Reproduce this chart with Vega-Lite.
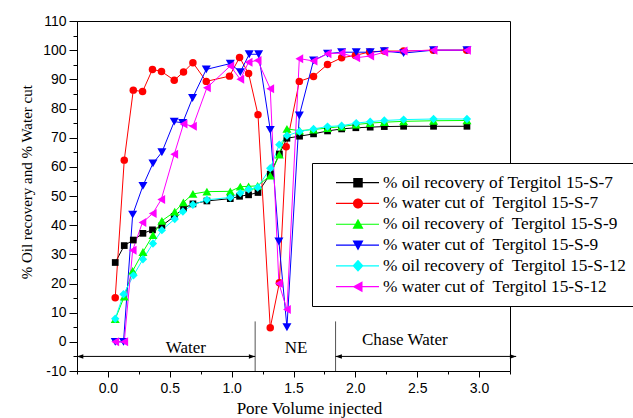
{
  "$schema": "https://vega.github.io/schema/vega-lite/v6.json",
  "width": 433,
  "height": 350,
  "autosize": "none",
  "padding": {"left": 77, "top": 21, "right": 123, "bottom": 47},
  "background": "white",
  "config": {
    "view": {"stroke": "#000", "strokeWidth": 1},
    "axis": {"grid": false, "domainColor": "#000", "tickColor": "#000", "labelColor": "#000", "titleColor": "#000", "domainWidth": 1, "tickWidth": 1}
  },
  "datasets": {
    "curves": [
      {"s": "% oil recovery of Tergitol 15-S-7", "x": 0.059, "y": 27.2},
      {"s": "% oil recovery of Tergitol 15-S-7", "x": 0.132, "y": 33.0},
      {"s": "% oil recovery of Tergitol 15-S-7", "x": 0.205, "y": 34.9},
      {"s": "% oil recovery of Tergitol 15-S-7", "x": 0.283, "y": 37.2},
      {"s": "% oil recovery of Tergitol 15-S-7", "x": 0.36, "y": 38.4},
      {"s": "% oil recovery of Tergitol 15-S-7", "x": 0.436, "y": 39.8},
      {"s": "% oil recovery of Tergitol 15-S-7", "x": 0.536, "y": 43.0},
      {"s": "% oil recovery of Tergitol 15-S-7", "x": 0.611, "y": 45.8},
      {"s": "% oil recovery of Tergitol 15-S-7", "x": 0.687, "y": 47.3},
      {"s": "% oil recovery of Tergitol 15-S-7", "x": 0.8, "y": 48.3},
      {"s": "% oil recovery of Tergitol 15-S-7", "x": 0.989, "y": 49.1},
      {"s": "% oil recovery of Tergitol 15-S-7", "x": 1.064, "y": 49.9},
      {"s": "% oil recovery of Tergitol 15-S-7", "x": 1.137, "y": 50.4},
      {"s": "% oil recovery of Tergitol 15-S-7", "x": 1.213, "y": 51.2},
      {"s": "% oil recovery of Tergitol 15-S-7", "x": 1.312, "y": 57.5},
      {"s": "% oil recovery of Tergitol 15-S-7", "x": 1.386, "y": 64.4},
      {"s": "% oil recovery of Tergitol 15-S-7", "x": 1.447, "y": 69.8},
      {"s": "% oil recovery of Tergitol 15-S-7", "x": 1.549, "y": 70.5},
      {"s": "% oil recovery of Tergitol 15-S-7", "x": 1.662, "y": 71.3},
      {"s": "% oil recovery of Tergitol 15-S-7", "x": 1.775, "y": 72.3},
      {"s": "% oil recovery of Tergitol 15-S-7", "x": 1.889, "y": 73.0},
      {"s": "% oil recovery of Tergitol 15-S-7", "x": 2.004, "y": 73.4},
      {"s": "% oil recovery of Tergitol 15-S-7", "x": 2.12, "y": 73.6},
      {"s": "% oil recovery of Tergitol 15-S-7", "x": 2.234, "y": 73.8},
      {"s": "% oil recovery of Tergitol 15-S-7", "x": 2.39, "y": 73.9},
      {"s": "% oil recovery of Tergitol 15-S-7", "x": 2.632, "y": 73.9},
      {"s": "% oil recovery of Tergitol 15-S-7", "x": 2.902, "y": 73.9},

      {"s": "% water cut of\u00a0 Tergitol 15-S-7", "x": 0.059, "y": 15.1},
      {"s": "% water cut of\u00a0 Tergitol 15-S-7", "x": 0.132, "y": 62.3},
      {"s": "% water cut of\u00a0 Tergitol 15-S-7", "x": 0.205, "y": 86.3},
      {"s": "% water cut of\u00a0 Tergitol 15-S-7", "x": 0.28, "y": 85.8},
      {"s": "% water cut of\u00a0 Tergitol 15-S-7", "x": 0.36, "y": 93.4},
      {"s": "% water cut of\u00a0 Tergitol 15-S-7", "x": 0.433, "y": 92.7},
      {"s": "% water cut of\u00a0 Tergitol 15-S-7", "x": 0.536, "y": 89.7},
      {"s": "% water cut of\u00a0 Tergitol 15-S-7", "x": 0.611, "y": 92.5},
      {"s": "% water cut of\u00a0 Tergitol 15-S-7", "x": 0.687, "y": 95.7},
      {"s": "% water cut of\u00a0 Tergitol 15-S-7", "x": 0.795, "y": 89.3},
      {"s": "% water cut of\u00a0 Tergitol 15-S-7", "x": 0.983, "y": 91.1},
      {"s": "% water cut of\u00a0 Tergitol 15-S-7", "x": 1.064, "y": 97.5},
      {"s": "% water cut of\u00a0 Tergitol 15-S-7", "x": 1.137, "y": 92.0},
      {"s": "% water cut of\u00a0 Tergitol 15-S-7", "x": 1.213, "y": 77.9},
      {"s": "% water cut of\u00a0 Tergitol 15-S-7", "x": 1.312, "y": 4.8},
      {"s": "% water cut of\u00a0 Tergitol 15-S-7", "x": 1.386, "y": 20.3},
      {"s": "% water cut of\u00a0 Tergitol 15-S-7", "x": 1.441, "y": 66.9},
      {"s": "% water cut of\u00a0 Tergitol 15-S-7", "x": 1.547, "y": 89.3},
      {"s": "% water cut of\u00a0 Tergitol 15-S-7", "x": 1.662, "y": 91.0},
      {"s": "% water cut of\u00a0 Tergitol 15-S-7", "x": 1.775, "y": 95.1},
      {"s": "% water cut of\u00a0 Tergitol 15-S-7", "x": 1.889, "y": 97.4},
      {"s": "% water cut of\u00a0 Tergitol 15-S-7", "x": 2.0, "y": 98.2},
      {"s": "% water cut of\u00a0 Tergitol 15-S-7", "x": 2.115, "y": 99.4},
      {"s": "% water cut of\u00a0 Tergitol 15-S-7", "x": 2.234, "y": 99.7},
      {"s": "% water cut of\u00a0 Tergitol 15-S-7", "x": 2.39, "y": 99.7},
      {"s": "% water cut of\u00a0 Tergitol 15-S-7", "x": 2.63, "y": 100},
      {"s": "% water cut of\u00a0 Tergitol 15-S-7", "x": 2.9, "y": 100},

      {"s": "% oil recovery of\u00a0 Tergitol 15-S-9", "x": 0.059, "y": 7.8},
      {"s": "% oil recovery of\u00a0 Tergitol 15-S-9", "x": 0.132, "y": 15.5},
      {"s": "% oil recovery of\u00a0 Tergitol 15-S-9", "x": 0.2, "y": 24.3},
      {"s": "% oil recovery of\u00a0 Tergitol 15-S-9", "x": 0.283, "y": 30.8},
      {"s": "% oil recovery of\u00a0 Tergitol 15-S-9", "x": 0.364, "y": 36.6},
      {"s": "% oil recovery of\u00a0 Tergitol 15-S-9", "x": 0.436, "y": 41.5},
      {"s": "% oil recovery of\u00a0 Tergitol 15-S-9", "x": 0.54, "y": 44.6},
      {"s": "% oil recovery of\u00a0 Tergitol 15-S-9", "x": 0.61, "y": 47.8},
      {"s": "% oil recovery of\u00a0 Tergitol 15-S-9", "x": 0.687, "y": 50.7},
      {"s": "% oil recovery of\u00a0 Tergitol 15-S-9", "x": 0.8, "y": 51.5},
      {"s": "% oil recovery of\u00a0 Tergitol 15-S-9", "x": 0.989, "y": 51.6},
      {"s": "% oil recovery of\u00a0 Tergitol 15-S-9", "x": 1.07, "y": 53.2},
      {"s": "% oil recovery of\u00a0 Tergitol 15-S-9", "x": 1.137, "y": 53.3},
      {"s": "% oil recovery of\u00a0 Tergitol 15-S-9", "x": 1.21, "y": 53.5},
      {"s": "% oil recovery of\u00a0 Tergitol 15-S-9", "x": 1.312, "y": 57.0},
      {"s": "% oil recovery of\u00a0 Tergitol 15-S-9", "x": 1.385, "y": 64.2},
      {"s": "% oil recovery of\u00a0 Tergitol 15-S-9", "x": 1.447, "y": 73.0},
      {"s": "% oil recovery of\u00a0 Tergitol 15-S-9", "x": 1.549, "y": 72.4},
      {"s": "% oil recovery of\u00a0 Tergitol 15-S-9", "x": 1.662, "y": 72.8},
      {"s": "% oil recovery of\u00a0 Tergitol 15-S-9", "x": 1.775, "y": 73.3},
      {"s": "% oil recovery of\u00a0 Tergitol 15-S-9", "x": 1.889, "y": 73.8},
      {"s": "% oil recovery of\u00a0 Tergitol 15-S-9", "x": 2.007, "y": 74.5},
      {"s": "% oil recovery of\u00a0 Tergitol 15-S-9", "x": 2.12, "y": 75.0},
      {"s": "% oil recovery of\u00a0 Tergitol 15-S-9", "x": 2.234, "y": 75.3},
      {"s": "% oil recovery of\u00a0 Tergitol 15-S-9", "x": 2.39, "y": 75.6},
      {"s": "% oil recovery of\u00a0 Tergitol 15-S-9", "x": 2.632, "y": 75.8},
      {"s": "% oil recovery of\u00a0 Tergitol 15-S-9", "x": 2.902, "y": 75.9},

      {"s": "% water cut of\u00a0 Tergitol 15-S-9", "x": 0.059, "y": 0},
      {"s": "% water cut of\u00a0 Tergitol 15-S-9", "x": 0.126, "y": 0},
      {"s": "% water cut of\u00a0 Tergitol 15-S-9", "x": 0.2, "y": 43.6},
      {"s": "% water cut of\u00a0 Tergitol 15-S-9", "x": 0.283, "y": 53.5},
      {"s": "% water cut of\u00a0 Tergitol 15-S-9", "x": 0.364, "y": 61.2},
      {"s": "% water cut of\u00a0 Tergitol 15-S-9", "x": 0.436, "y": 65.0},
      {"s": "% water cut of\u00a0 Tergitol 15-S-9", "x": 0.536, "y": 75.5},
      {"s": "% water cut of\u00a0 Tergitol 15-S-9", "x": 0.604, "y": 75.1},
      {"s": "% water cut of\u00a0 Tergitol 15-S-9", "x": 0.684, "y": 83.6},
      {"s": "% water cut of\u00a0 Tergitol 15-S-9", "x": 0.795, "y": 93.4},
      {"s": "% water cut of\u00a0 Tergitol 15-S-9", "x": 0.989, "y": 95.4},
      {"s": "% water cut of\u00a0 Tergitol 15-S-9", "x": 1.07, "y": 92.5},
      {"s": "% water cut of\u00a0 Tergitol 15-S-9", "x": 1.142, "y": 98.6},
      {"s": "% water cut of\u00a0 Tergitol 15-S-9", "x": 1.218, "y": 98.6},
      {"s": "% water cut of\u00a0 Tergitol 15-S-9", "x": 1.312, "y": 72.7},
      {"s": "% water cut of\u00a0 Tergitol 15-S-9", "x": 1.382, "y": 34.4},
      {"s": "% water cut of\u00a0 Tergitol 15-S-9", "x": 1.447, "y": 5.0},
      {"s": "% water cut of\u00a0 Tergitol 15-S-9", "x": 1.547, "y": 77.6},
      {"s": "% water cut of\u00a0 Tergitol 15-S-9", "x": 1.662, "y": 96.5},
      {"s": "% water cut of\u00a0 Tergitol 15-S-9", "x": 1.775, "y": 98.8},
      {"s": "% water cut of\u00a0 Tergitol 15-S-9", "x": 1.889, "y": 99.3},
      {"s": "% water cut of\u00a0 Tergitol 15-S-9", "x": 2.007, "y": 99.3},
      {"s": "% water cut of\u00a0 Tergitol 15-S-9", "x": 2.12, "y": 99.3},
      {"s": "% water cut of\u00a0 Tergitol 15-S-9", "x": 2.234, "y": 99.7},
      {"s": "% water cut of\u00a0 Tergitol 15-S-9", "x": 2.39, "y": 99.0},
      {"s": "% water cut of\u00a0 Tergitol 15-S-9", "x": 2.632, "y": 100},
      {"s": "% water cut of\u00a0 Tergitol 15-S-9", "x": 2.902, "y": 100},

      {"s": "% oil recovery of\u00a0 Tergitol 15-S-12", "x": 0.059, "y": 7.9},
      {"s": "% oil recovery of\u00a0 Tergitol 15-S-12", "x": 0.126, "y": 16.3},
      {"s": "% oil recovery of\u00a0 Tergitol 15-S-12", "x": 0.207, "y": 22.8},
      {"s": "% oil recovery of\u00a0 Tergitol 15-S-12", "x": 0.283, "y": 28.3},
      {"s": "% oil recovery of\u00a0 Tergitol 15-S-12", "x": 0.364, "y": 33.7},
      {"s": "% oil recovery of\u00a0 Tergitol 15-S-12", "x": 0.436, "y": 38.3},
      {"s": "% oil recovery of\u00a0 Tergitol 15-S-12", "x": 0.54, "y": 42.1},
      {"s": "% oil recovery of\u00a0 Tergitol 15-S-12", "x": 0.606, "y": 44.7},
      {"s": "% oil recovery of\u00a0 Tergitol 15-S-12", "x": 0.687, "y": 47.0},
      {"s": "% oil recovery of\u00a0 Tergitol 15-S-12", "x": 0.8, "y": 48.7},
      {"s": "% oil recovery of\u00a0 Tergitol 15-S-12", "x": 0.989, "y": 49.5},
      {"s": "% oil recovery of\u00a0 Tergitol 15-S-12", "x": 1.07, "y": 51.0},
      {"s": "% oil recovery of\u00a0 Tergitol 15-S-12", "x": 1.137, "y": 52.3},
      {"s": "% oil recovery of\u00a0 Tergitol 15-S-12", "x": 1.21, "y": 52.9},
      {"s": "% oil recovery of\u00a0 Tergitol 15-S-12", "x": 1.312, "y": 59.5},
      {"s": "% oil recovery of\u00a0 Tergitol 15-S-12", "x": 1.385, "y": 67.6},
      {"s": "% oil recovery of\u00a0 Tergitol 15-S-12", "x": 1.447, "y": 70.7},
      {"s": "% oil recovery of\u00a0 Tergitol 15-S-12", "x": 1.549, "y": 72.1},
      {"s": "% oil recovery of\u00a0 Tergitol 15-S-12", "x": 1.662, "y": 73.0},
      {"s": "% oil recovery of\u00a0 Tergitol 15-S-12", "x": 1.775, "y": 73.8},
      {"s": "% oil recovery of\u00a0 Tergitol 15-S-12", "x": 1.889, "y": 74.1},
      {"s": "% oil recovery of\u00a0 Tergitol 15-S-12", "x": 2.007, "y": 75.0},
      {"s": "% oil recovery of\u00a0 Tergitol 15-S-12", "x": 2.12, "y": 75.5},
      {"s": "% oil recovery of\u00a0 Tergitol 15-S-12", "x": 2.234, "y": 75.9},
      {"s": "% oil recovery of\u00a0 Tergitol 15-S-12", "x": 2.39, "y": 76.2},
      {"s": "% oil recovery of\u00a0 Tergitol 15-S-12", "x": 2.632, "y": 76.4},
      {"s": "% oil recovery of\u00a0 Tergitol 15-S-12", "x": 2.902, "y": 76.4},

      {"s": "% water cut of\u00a0 Tergitol 15-S-12", "x": 0.059, "y": 0},
      {"s": "% water cut of\u00a0 Tergitol 15-S-12", "x": 0.132, "y": 0},
      {"s": "% water cut of\u00a0 Tergitol 15-S-12", "x": 0.2, "y": 31.4},
      {"s": "% water cut of\u00a0 Tergitol 15-S-12", "x": 0.279, "y": 40.9},
      {"s": "% water cut of\u00a0 Tergitol 15-S-12", "x": 0.362, "y": 44.0},
      {"s": "% water cut of\u00a0 Tergitol 15-S-12", "x": 0.431, "y": 48.8},
      {"s": "% water cut of\u00a0 Tergitol 15-S-12", "x": 0.536, "y": 64.3},
      {"s": "% water cut of\u00a0 Tergitol 15-S-12", "x": 0.611, "y": 74.7},
      {"s": "% water cut of\u00a0 Tergitol 15-S-12", "x": 0.687, "y": 73.9},
      {"s": "% water cut of\u00a0 Tergitol 15-S-12", "x": 0.8, "y": 87.1},
      {"s": "% water cut of\u00a0 Tergitol 15-S-12", "x": 0.989, "y": 94.6},
      {"s": "% water cut of\u00a0 Tergitol 15-S-12", "x": 1.07, "y": 90.0},
      {"s": "% water cut of\u00a0 Tergitol 15-S-12", "x": 1.137, "y": 95.9},
      {"s": "% water cut of\u00a0 Tergitol 15-S-12", "x": 1.21, "y": 96.5},
      {"s": "% water cut of\u00a0 Tergitol 15-S-12", "x": 1.312, "y": 86.8},
      {"s": "% water cut of\u00a0 Tergitol 15-S-12", "x": 1.382, "y": 20.0},
      {"s": "% water cut of\u00a0 Tergitol 15-S-12", "x": 1.447, "y": 11.1},
      {"s": "% water cut of\u00a0 Tergitol 15-S-12", "x": 1.547, "y": 97.1},
      {"s": "% water cut of\u00a0 Tergitol 15-S-12", "x": 1.662, "y": 96.3},
      {"s": "% water cut of\u00a0 Tergitol 15-S-12", "x": 1.775, "y": 98.8},
      {"s": "% water cut of\u00a0 Tergitol 15-S-12", "x": 1.889, "y": 99.0},
      {"s": "% water cut of\u00a0 Tergitol 15-S-12", "x": 2.007, "y": 97.4},
      {"s": "% water cut of\u00a0 Tergitol 15-S-12", "x": 2.12, "y": 98.0},
      {"s": "% water cut of\u00a0 Tergitol 15-S-12", "x": 2.234, "y": 99.3},
      {"s": "% water cut of\u00a0 Tergitol 15-S-12", "x": 2.39, "y": 99.7},
      {"s": "% water cut of\u00a0 Tergitol 15-S-12", "x": 2.632, "y": 100},
      {"s": "% water cut of\u00a0 Tergitol 15-S-12", "x": 2.902, "y": 100}
    ],
    "seps": [
      {"x": 1.19, "y": -10, "y2": 7},
      {"x": 1.84, "y": -10, "y2": 7}
    ],
    "arrows": [
      {"a": -0.25, "b": 1.19, "y": -5},
      {"a": 1.84, "b": 3.3, "y": -5}
    ],
    "labels": [
      {"x": 0.63, "y": -3.7, "t": "Water"},
      {"x": 1.52, "y": -3.9, "t": "NE"},
      {"x": 2.4, "y": -1.2, "t": "Chase Water"}
    ]
  },
  "resolve": {"axis": {"x": "independent", "y": "independent"}},
  "layer": [
    {
      "data": {"name": "curves"},
      "mark": {"type": "line", "strokeWidth": 1},
      "encoding": {
        "x": {"field": "x", "type": "quantitative",
          "scale": {"domain": [-0.25, 3.25], "nice": false, "zero": false},
          "axis": {"orient": "bottom", "values": [0, 0.5, 1, 1.5, 2, 2.5, 3], "format": ".1f",
            "labelFont": "Liberation Sans", "labelFontSize": 14, "labelPadding": 4, "tickSize": 6,
            "title": "Pore Volume injected", "titleFont": "Liberation Serif", "titleFontSize": 17,
            "titleFontWeight": "normal", "titleX": 232, "titleY": 42, "titleAlign": "center", "titleBaseline": "alphabetic"}},
        "y": {"field": "y", "type": "quantitative",
          "scale": {"domain": [-10, 110], "nice": false, "zero": false},
          "axis": {"orient": "left", "values": [-10, 0, 10, 20, 30, 40, 50, 60, 70, 80, 90, 100, 110],
            "labelExpr": "'' + datum.value", "labelFont": "Liberation Sans", "labelFontSize": 14, "labelPadding": 3, "tickSize": 8,
            "title": "% Oil recovery and % Water cut", "titleFont": "Liberation Serif", "titleFontSize": 15,
            "titleFontWeight": "normal", "titleAngle": 270, "titleX": -46, "titleY": 160.7, "titleAlign": "center", "titleBaseline": "alphabetic"}},
        "color": {"field": "s", "type": "nominal",
          "scale": {"domain": [
            "% oil recovery of Tergitol 15-S-7",
            "% water cut of\u00a0 Tergitol 15-S-7",
            "% oil recovery of\u00a0 Tergitol 15-S-9",
            "% water cut of\u00a0 Tergitol 15-S-9",
            "% oil recovery of\u00a0 Tergitol 15-S-12",
            "% water cut of\u00a0 Tergitol 15-S-12"],
            "range": ["#000000", "#ff0000", "#00ff00", "#0000ff", "#00ffff", "#ff00ff"]},
          "legend": {"orient": "none", "legendX": 235, "legendY": 142, "title": null,
            "fillColor": "#ffffff", "strokeColor": "#000000", "padding": 11,
            "labelFont": "Liberation Serif", "labelFontSize": 17.3, "labelColor": "#000", "labelLimit": 0,
            "symbolSize": 100, "symbolStrokeWidth": 0, "symbolOffset": 26.35, "labelOffset": 16.35, "rowPadding": 2.8, "symbolOpacity": 1,
            "encode": {"symbols": {"update": {
              "fill": {"scale": "color", "field": "value"},
              "stroke": {"value": "transparent"},
              "strokeWidth": {"value": 0},
              "opacity": {"value": 1},
              "shape": {"signal": "['M-4.4,-0.12H4.2V0.12H-4.4ZM-0.95,-0.95H0.95V0.95H-0.95Z','M-4.4,-0.12H4.2V0.12H-4.4ZM-1,0A1,1 0 1,1 1,0A1,1 0 1,1 -1,0Z','M-4.4,-0.12H4.2V0.12H-4.4ZM0,-1.1L1.1,0.9L-1.1,0.9Z','M-4.4,-0.12H4.2V0.12H-4.4ZM0,1.1L-1.1,-0.9L1.1,-0.9Z','M-4.4,-0.12H4.2V0.12H-4.4ZM0,-1.2L1.1,0L0,1.2L-1.1,0Z','M-4.4,-0.12H4.2V0.12H-4.4ZM-1.1,0L0.9,-1.1L0.9,1.1Z'][datum.index]"}}}}}},
        "order": {"field": "x", "type": "quantitative"}
      }
    },
    {
      "data": {"name": "curves"},
      "transform": [{"filter": {"field": "s", "equal": "% oil recovery of Tergitol 15-S-7"}}],
      "mark": {"type": "point", "shape": "square", "size": 45, "filled": true, "opacity": 1, "strokeWidth": 0},
      "encoding": {
        "x": {"field": "x", "type": "quantitative", "scale": {"domain": [-0.25, 3.25], "nice": false, "zero": false}, "axis": null},
        "y": {"field": "y", "type": "quantitative", "scale": {"domain": [-10, 110], "nice": false, "zero": false}, "axis": null},
        "color": {"field": "s", "type": "nominal"}
      }
    },
    {
      "data": {"name": "curves"},
      "transform": [{"filter": {"field": "s", "equal": "% water cut of\u00a0 Tergitol 15-S-7"}}],
      "mark": {"type": "point", "shape": "circle", "size": 56, "filled": true, "opacity": 1, "strokeWidth": 0},
      "encoding": {
        "x": {"field": "x", "type": "quantitative", "scale": {"domain": [-0.25, 3.25], "nice": false, "zero": false}, "axis": null},
        "y": {"field": "y", "type": "quantitative", "scale": {"domain": [-10, 110], "nice": false, "zero": false}, "axis": null},
        "color": {"field": "s", "type": "nominal"}
      }
    },
    {
      "data": {"name": "curves"},
      "transform": [{"filter": {"field": "s", "equal": "% oil recovery of\u00a0 Tergitol 15-S-9"}}],
      "mark": {"type": "point", "shape": "triangle-up", "size": 81, "filled": true, "opacity": 1, "strokeWidth": 0},
      "encoding": {
        "x": {"field": "x", "type": "quantitative", "scale": {"domain": [-0.25, 3.25], "nice": false, "zero": false}, "axis": null},
        "y": {"field": "y", "type": "quantitative", "scale": {"domain": [-10, 110], "nice": false, "zero": false}, "axis": null},
        "color": {"field": "s", "type": "nominal"}
      }
    },
    {
      "data": {"name": "curves"},
      "transform": [{"filter": {"field": "s", "equal": "% water cut of\u00a0 Tergitol 15-S-9"}}],
      "mark": {"type": "point", "shape": "triangle-down", "size": 81, "filled": true, "opacity": 1, "strokeWidth": 0},
      "encoding": {
        "x": {"field": "x", "type": "quantitative", "scale": {"domain": [-0.25, 3.25], "nice": false, "zero": false}, "axis": null},
        "y": {"field": "y", "type": "quantitative", "scale": {"domain": [-10, 110], "nice": false, "zero": false}, "axis": null},
        "color": {"field": "s", "type": "nominal"}
      }
    },
    {
      "data": {"name": "curves"},
      "transform": [{"filter": {"field": "s", "equal": "% oil recovery of\u00a0 Tergitol 15-S-12"}}],
      "mark": {"type": "point", "shape": "diamond", "size": 70, "filled": true, "opacity": 1, "strokeWidth": 0},
      "encoding": {
        "x": {"field": "x", "type": "quantitative", "scale": {"domain": [-0.25, 3.25], "nice": false, "zero": false}, "axis": null},
        "y": {"field": "y", "type": "quantitative", "scale": {"domain": [-10, 110], "nice": false, "zero": false}, "axis": null},
        "color": {"field": "s", "type": "nominal"}
      }
    },
    {
      "data": {"name": "curves"},
      "transform": [{"filter": {"field": "s", "equal": "% water cut of\u00a0 Tergitol 15-S-12"}}],
      "mark": {"type": "point", "shape": "triangle-left", "size": 81, "filled": true, "opacity": 1, "strokeWidth": 0},
      "encoding": {
        "x": {"field": "x", "type": "quantitative", "scale": {"domain": [-0.25, 3.25], "nice": false, "zero": false}, "axis": null},
        "y": {"field": "y", "type": "quantitative", "scale": {"domain": [-10, 110], "nice": false, "zero": false}, "axis": null},
        "color": {"field": "s", "type": "nominal"}
      }
    },
    {
      "data": {"name": "seps"},
      "mark": {"type": "rule", "color": "#555555", "strokeWidth": 1},
      "encoding": {
        "x": {"field": "x", "type": "quantitative", "scale": {"domain": [-0.25, 3.25], "nice": false, "zero": false},
          "axis": {"orient": "bottom", "values": [-0.25, 0.25, 0.75, 1.25, 1.75, 2.25, 2.75, 3.25], "labels": false, "domain": false, "tickSize": 3, "title": null, "grid": false}},
        "y": {"field": "y", "type": "quantitative", "scale": {"domain": [-10, 110], "nice": false, "zero": false},
          "axis": {"orient": "left", "values": [-5, 5, 15, 25, 35, 45, 55, 65, 75, 85, 95, 105], "labels": false, "domain": false, "tickSize": 4, "title": null, "grid": false}},
        "y2": {"field": "y2"}
      }
    },
    {
      "data": {"name": "arrows"},
      "mark": {"type": "rule", "color": "#000000", "strokeWidth": 1},
      "encoding": {
        "x": {"field": "a", "type": "quantitative", "scale": {"domain": [-0.25, 3.25], "nice": false, "zero": false}, "axis": null},
        "x2": {"field": "b"},
        "y": {"field": "y", "type": "quantitative", "scale": {"domain": [-10, 110], "nice": false, "zero": false}, "axis": null}
      }
    },
    {
      "data": {"name": "arrows"},
      "mark": {"type": "point", "shape": "M0,0L1.8,-0.65L1.8,0.65Z", "filled": true, "size": 49, "color": "#000000", "opacity": 1, "strokeWidth": 0},
      "encoding": {
        "x": {"field": "a", "type": "quantitative", "scale": {"domain": [-0.25, 3.25], "nice": false, "zero": false}, "axis": null},
        "y": {"field": "y", "type": "quantitative", "scale": {"domain": [-10, 110], "nice": false, "zero": false}, "axis": null}
      }
    },
    {
      "data": {"name": "arrows"},
      "mark": {"type": "point", "shape": "M0,0L-1.8,-0.65L-1.8,0.65Z", "filled": true, "size": 49, "color": "#000000", "opacity": 1, "strokeWidth": 0},
      "encoding": {
        "x": {"field": "b", "type": "quantitative", "scale": {"domain": [-0.25, 3.25], "nice": false, "zero": false}, "axis": null},
        "y": {"field": "y", "type": "quantitative", "scale": {"domain": [-10, 110], "nice": false, "zero": false}, "axis": null}
      }
    },
    {
      "data": {"name": "labels"},
      "mark": {"type": "text", "font": "Liberation Serif", "fontSize": 17, "align": "center", "baseline": "alphabetic", "color": "#000000"},
      "encoding": {
        "x": {"field": "x", "type": "quantitative", "scale": {"domain": [-0.25, 3.25], "nice": false, "zero": false}, "axis": null},
        "y": {"field": "y", "type": "quantitative", "scale": {"domain": [-10, 110], "nice": false, "zero": false}, "axis": null},
        "text": {"field": "t"}
      }
    }
  ]
}
